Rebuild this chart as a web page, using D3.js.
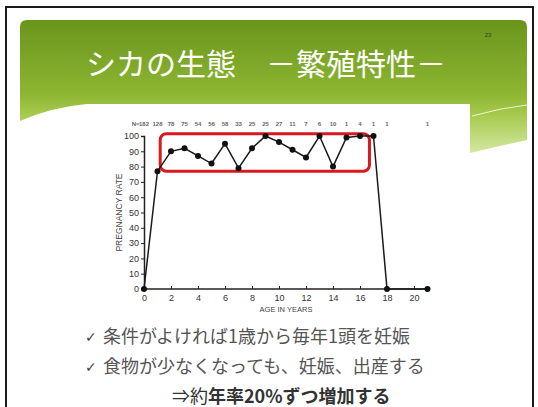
<!DOCTYPE html>
<html>
<head>
<meta charset="utf-8">
<script src="https://cdn.jsdelivr.net/npm/d3@7"></script>
<style>
  body { margin: 0; background: #fff; }
  svg { display: block; }
</style>
</head>
<body>
<div id="slide"></div>
<script>
// pregnancy rate by age
const ages = [0, 1, 2, 3, 4, 5, 6, 7, 8, 9, 10, 11, 12, 13, 14, 15, 16, 17, 18, 21];
const rates = [0, 77, 90, 92, 87, 82, 95, 79, 92, 100, 96, 91, 86, 100, 80, 99, 100, 100, 0, 0];
const sampleN = [182, 128, 78, 75, 54, 56, 58, 33, 25, 25, 27, 11, 7, 6, 10, 1, 4, 1, 1, 1];
const xTicks = [0, 2, 4, 6, 8, 10, 12, 14, 16, 18, 20];
const yTicks = [0, 10, 20, 30, 40, 50, 60, 70, 80, 90, 100];
// red highlight box, in data units
const boxAge = [1.2, 16.7];
const boxRate = [77, 101.4];

const W = 538, H = 407;
const svg = d3.select("#slide").append("svg")
    .attr("width", W)
    .attr("height", H);

const defs = svg.append("defs");
const grad = defs.append("linearGradient")
    .attr("id", "hdr")
    .attr("gradientUnits", "userSpaceOnUse")
    .attr("x1", 0).attr("y1", 20).attr("x2", 0).attr("y2", 155);
grad.append("stop").attr("offset", 0).attr("stop-color", "#6a951c");
grad.append("stop").attr("offset", 0.55).attr("stop-color", "#8db632");
grad.append("stop").attr("offset", 0.72).attr("stop-color", "#a9cc52");
grad.append("stop").attr("offset", 1).attr("stop-color", "#d6eaa6");

// slide frame
svg.append("rect")
    .attr("x", 6).attr("y", 7)
    .attr("width", 527).attr("height", 430)
    .attr("fill", "#fff")
    .attr("stroke", "#1a1a1a")
    .attr("stroke-width", 2);

// green header
svg.append("path")
    .attr("d", "M20,27 Q20,20 27,20 H520 Q527,20 527,27 V140 Q500,146 470,153 V104 H87 Q52,107 20,121 Z")
    .attr("fill", "url(#hdr)");
svg.append("path")
    .attr("d", "M472,116 Q500,108 527,105")
    .attr("fill", "none")
    .attr("stroke", "#eef6cc")
    .attr("stroke-width", 1);

svg.append("text")
    .attr("x", 266).attr("y", 75)
    .attr("text-anchor", "middle")
    .attr("fill", "#fff")
    .style("font-family", "'Noto Sans CJK JP'")
    .style("font-size", "30px")
    .text("シカの生態　－繁殖特性－");

svg.append("text")
    .attr("x", 488).attr("y", 37)
    .attr("text-anchor", "middle")
    .attr("fill", "#333")
    .style("font-family", "'Liberation Sans', Arial")
    .style("font-size", "6px")
    .text("23");

// white figure area
svg.append("rect")
    .attr("x", 87).attr("y", 104)
    .attr("width", 383).attr("height", 215)
    .attr("fill", "#fff");

// chart
const x = d3.scaleLinear().domain([0, 20]).range([144, 414]);
const y = d3.scaleLinear().domain([0, 100]).range([289, 136]);

const axisFont = "'Liberation Sans', Arial, sans-serif";

const gx = svg.append("g")
    .attr("transform", `translate(0,${y(0)})`)
    .call(d3.axisBottom(x).tickValues(xTicks).tickSize(-3).tickPadding(6));
gx.select(".domain").remove();
gx.append("line")
    .attr("x1", x(0)).attr("x2", x(21))
    .attr("stroke", "#222").attr("stroke-width", 1.5);

const gy = svg.append("g")
    .attr("transform", `translate(${x(0)},0)`)
    .call(d3.axisLeft(y).tickValues(yTicks).tickSize(3).tickPadding(2));
gy.select(".domain").attr("stroke", "#222").attr("stroke-width", 1.5);

[gx, gy].forEach(g => {
  g.selectAll(".tick line").attr("stroke", "#222").attr("stroke-width", 1);
  g.selectAll(".tick text")
      .attr("fill", "#333")
      .style("font-family", axisFont)
      .style("font-size", "9px");
});

svg.append("text")
    .attr("transform", `translate(122,${y(50)}) rotate(-90)`)
    .attr("text-anchor", "middle")
    .attr("fill", "#444")
    .style("font-family", axisFont)
    .style("font-size", "8.5px")
    .text("PREGNANCY RATE");

svg.append("text")
    .attr("x", 286).attr("y", 312)
    .attr("text-anchor", "middle")
    .attr("fill", "#444")
    .style("font-family", axisFont)
    .style("font-size", "7.5px")
    .text("AGE IN YEARS");

// sample sizes along the top
const nLabels = svg.append("g")
    .style("font-family", axisFont)
    .style("font-size", "6px")
    .style("font-weight", "bold")
    .attr("fill", "#666");
nLabels.selectAll("text")
    .data(ages)
    .join("text")
    .attr("x", d => x(d))
    .attr("y", 126)
    .attr("text-anchor", "middle")
    .text((d, i) => sampleN[i]);
nLabels.append("text")
    .attr("x", x(0) - 4.5)
    .attr("y", 126)
    .attr("text-anchor", "end")
    .text("N=");

// highlight box
svg.append("rect")
    .attr("x", x(boxAge[0]))
    .attr("y", y(boxRate[1]))
    .attr("width", x(boxAge[1]) - x(boxAge[0]))
    .attr("height", y(boxRate[0]) - y(boxRate[1]))
    .attr("rx", 6)
    .attr("fill", "none")
    .attr("stroke", "#d81920")
    .attr("stroke-width", 3);

// series
const pts = ages.map((a, i) => [a, rates[i]]);
svg.append("path")
    .datum(pts)
    .attr("d", d3.line().x(d => x(d[0])).y(d => y(d[1])))
    .attr("fill", "none")
    .attr("stroke", "#1a1a1a")
    .attr("stroke-width", 1.5);
svg.append("g")
    .selectAll("circle")
    .data(pts)
    .join("circle")
    .attr("cx", d => x(d[0]))
    .attr("cy", d => y(d[1]))
    .attr("r", 3)
    .attr("fill", "#111");

// bullet text
const jp = "'Noto Sans CJK JP', sans-serif";
const bullets = ["条件がよければ1歳から毎年1頭を妊娠", "食物が少なくなっても、妊娠、出産する"];
bullets.forEach((t, i) => {
  const yy = 343 + i * 30;
  svg.append("text")
      .attr("x", 85).attr("y", yy - 1)
      .attr("fill", "#444")
      .style("font-family", "'DejaVu Sans'")
      .style("font-size", "14px")
      .text("✓");
  svg.append("text")
      .attr("x", 103).attr("y", yy)
      .attr("fill", "#555")
      .style("font-family", jp)
      .style("font-size", "18px")
      .text(t);
});

const concl = svg.append("text")
    .attr("x", 172).attr("y", 403)
    .attr("fill", "#333")
    .style("font-family", jp)
    .style("font-size", "18px");
concl.append("tspan").text("⇒約");
concl.append("tspan").style("font-weight", "bold").text("年率20%ずつ増加する");
</script>
</body>
</html>
